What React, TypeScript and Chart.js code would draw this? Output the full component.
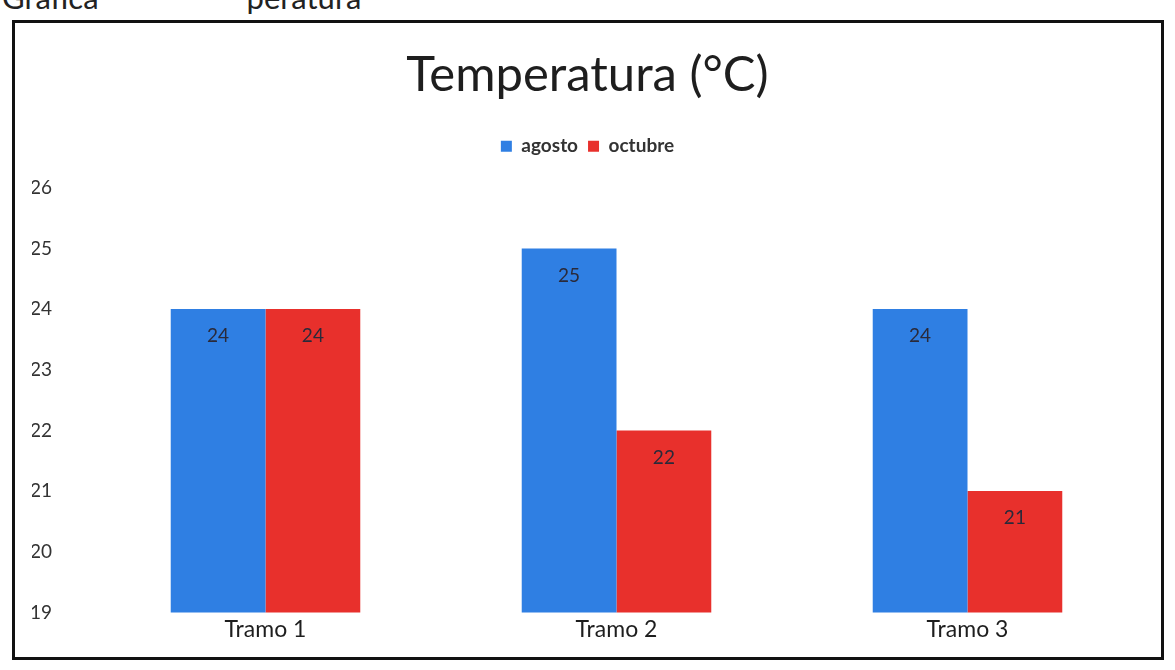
import React, { useEffect, useRef } from "react";
import { Chart, registerables } from "chart.js";

Chart.register(...registerables);

const categories = ["Tramo 1", "Tramo 2", "Tramo 3"];
const agosto = [24, 25, 24];
const octubre = [24, 22, 21];
const yMin = 19;
const yMax = 26;

const labelPlugin = {
  id: "barLabels",
  afterDatasetsDraw(chart: any) {
    const ctx = chart.ctx;
    ctx.save();
    ctx.font = "19px Lato, 'Open Sans', sans-serif";
    ctx.fillStyle = "#2a2a3a";
    ctx.textAlign = "center";
    ctx.textBaseline = "middle";
    chart.data.datasets.forEach((ds: any, i: number) => {
      const meta = chart.getDatasetMeta(i);
      meta.data.forEach((bar: any, j: number) => {
        ctx.fillText(String(ds.data[j]), bar.x, bar.y + 27);
      });
    });
    ctx.restore();
  },
};

const legendSpace = {
  id: "legendSpace",
  beforeInit(chart: any) {
    const legend = chart.legend;
    if (!legend) return;
    const orig = legend.fit;
    legend.fit = function () {
      orig.call(this);
      this.height += 22;
    };
  },
};

export default function App() {
  const ref = useRef<HTMLCanvasElement>(null);
  useEffect(() => {
    const chart = new Chart(ref.current!, {
      type: "bar",
      data: {
        labels: categories,
        datasets: [
          { label: "agosto", data: agosto, backgroundColor: "#2f7fe3", borderWidth: 0, categoryPercentage: 0.54, barPercentage: 1.0 },
          { label: "octubre", data: octubre, backgroundColor: "#e8302c", borderWidth: 0, categoryPercentage: 0.54, barPercentage: 1.0 },
        ],
      },
      options: {
        animation: false,
        responsive: false,
        layout: { padding: { left: 32, right: 32, top: 0, bottom: 24 } },
        plugins: {
          title: {
            display: true,
            text: "Temperatura (°C)",
            color: "#1e1e1e",
            font: { family: "Lato, 'Open Sans', sans-serif", size: 49, weight: "normal" },
            padding: { top: 46, bottom: 22 },
          },
          legend: {
            display: true,
            labels: {
              boxWidth: 11,
              boxHeight: 11,
              color: "#333",
              font: { family: "Lato, 'Open Sans', sans-serif", size: 19, weight: "bold" },
              padding: 10,
            },
          },
          tooltip: { enabled: false },
        },
        scales: {
          x: {
            grid: { display: false, drawTicks: false },
            border: { display: false },
            ticks: {
              color: "#1e1e1e",
              font: { family: "Lato, 'Open Sans', sans-serif", size: 23 },
              padding: 3,
            },
          },
          y: {
            min: yMin,
            max: yMax,
            grid: { display: false, drawTicks: false },
            border: { display: false },
            ticks: {
              stepSize: 1,
              color: "#333",
              font: { family: "Lato, 'Open Sans', sans-serif", size: 19 },
              padding: 38,
            },
            afterFit: (s: any) => {
              s.width = 58;
            },
          },
        },
      },
      plugins: [legendSpace, labelPlugin],
    });
    return () => chart.destroy();
  }, []);
  return (
    <div style={{ position: "absolute", left: 0, top: 0, width: 1175, height: 670, background: "#fff", overflow: "hidden" }}>
      <div style={{ position: "absolute", left: 2, top: -22, fontFamily: "Lato, sans-serif", fontSize: 31, color: "#222", whiteSpace: "nowrap" }}>
        Gráfica <span style={{ marginLeft: 140 }}>peratura</span>
      </div>
      <div style={{ position: "absolute", left: 12, top: 20, width: 1152, height: 640, border: "3px solid #111", boxSizing: "border-box" }} />
      <canvas ref={ref} width={1175} height={670} style={{ position: "absolute", left: 0, top: 0 }} />
    </div>
  );
}
